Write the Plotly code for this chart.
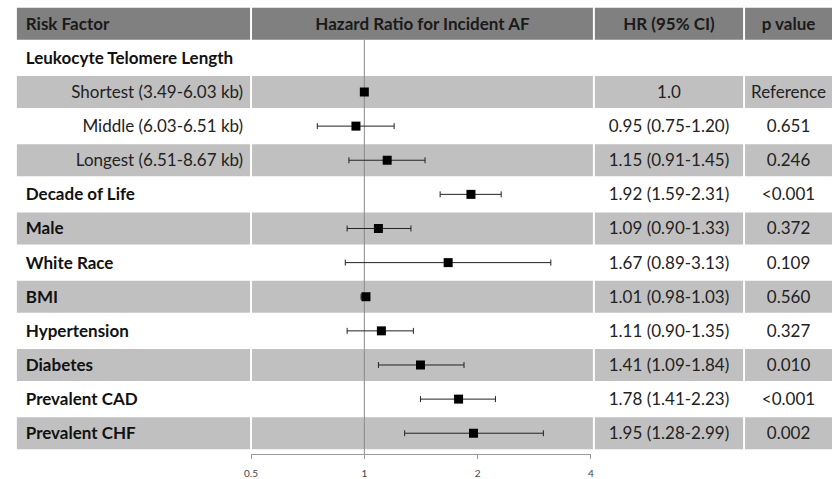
import math
import plotly.graph_objects as go

# ---- data ----
factors = ["Leukocyte Telomere Length", "Shortest (3.49-6.03 kb)", "Middle (6.03-6.51 kb)",
           "Longest (6.51-8.67 kb)", "Decade of Life", "Male", "White Race", "BMI",
           "Hypertension", "Diabetes", "Prevalent CAD", "Prevalent CHF"]
is_sub = [False, True, True, True, False, False, False, False, False, False, False, False]
hr = [None, 1.0, 0.95, 1.15, 1.92, 1.09, 1.67, 1.01, 1.11, 1.41, 1.78, 1.95]
ci_lo = [None, None, 0.75, 0.91, 1.59, 0.90, 0.89, 0.98, 0.90, 1.09, 1.41, 1.28]
ci_hi = [None, None, 1.20, 1.45, 2.31, 1.33, 3.13, 1.03, 1.35, 1.84, 2.23, 2.99]
hr_text = ["", "1.0", "0.95 (0.75-1.20)", "1.15 (0.91-1.45)", "1.92 (1.59-2.31)",
           "1.09 (0.90-1.33)", "1.67 (0.89-3.13)", "1.01 (0.98-1.03)", "1.11 (0.90-1.35)",
           "1.41 (1.09-1.84)", "1.78 (1.41-2.23)", "1.95 (1.28-2.99)"]
p_text = ["", "Reference", "0.651", "0.246", "<0.001", "0.372", "0.109", "0.560",
          "0.327", "0.010", "<0.001", "0.002"]
shaded = [False, True, False, True, False, True, False, True, False, True, False, True]
headers = ["Risk Factor", "Hazard Ratio for Incident AF", "HR (95% CI)", "p value"]
tick_vals = [0.5, 1, 2, 4]
tick_text = ["0.5", "1", "2", "4"]

W, H = 835, 479
FONT = "Lato"
FS = 17
n = len(factors)
rows = list(range(n))
DY = 0.05  # small vertical nudge of text baseline

# column boundaries in px (layout only)
cols = [(10, 246), (248, 593), (595, 745), (747, 835)]

err_plus = [None if (h is None or u is None) else u - h for h, u in zip(hr, ci_hi)]
err_minus = [None if (h is None or l is None) else h - l for h, l in zip(hr, ci_lo)]

fig = go.Figure()


def text_trace(xs, ys, texts, pos, color, bold=False, size=FS):
    t = [f"<b>{s}</b>" if bold else s for s in texts]
    fig.add_trace(go.Scatter(
        x=xs, y=[v + DY for v in ys], text=t, mode="text", textposition=pos,
        xaxis="x", yaxis="y",
        textfont=dict(family=FONT, size=size, color=color), cliponaxis=False,
        hoverinfo="skip", showlegend=False,
    ))


text_trace([19], [-1], [headers[0]], "middle right", "#1a1a1a", bold=True)
text_trace([(cols[1][0] + cols[1][1]) / 2, (cols[2][0] + cols[2][1]) / 2,
            (cols[3][0] + cols[3][1]) / 2], [-1, -1, -1], headers[1:], "middle center",
           "#1a1a1a", bold=True)
main_i = [i for i in rows if not is_sub[i]]
sub_i = [i for i in rows if is_sub[i]]
text_trace([19] * len(main_i), main_i, [factors[i] for i in main_i], "middle right", "#111", bold=True)
text_trace([239] * len(sub_i), sub_i, [factors[i] for i in sub_i], "middle left", "#222")
hr_i = [i for i in rows if hr_text[i]]
text_trace([670] * len(hr_i), hr_i, [hr_text[i] for i in hr_i], "middle center", "#222")
p_i = [i for i in rows if p_text[i]]
text_trace([791] * len(p_i), p_i, [p_text[i] for i in p_i], "middle center", "#222")

# forest plot marks on the log axis
fig.add_trace(go.Scatter(
    x=hr, y=rows, mode="markers", xaxis="x2", yaxis="y",
    marker=dict(symbol="square", size=9, color="black"),
    error_x=dict(type="data", array=err_plus, arrayminus=err_minus, symmetric=False,
                 color="#222", thickness=1, width=3),
    hoverinfo="skip", showlegend=False,
))

shapes = []
half = 0.468
for c0, c1 in cols:
    shapes.append(dict(type="rect", xref="x", yref="y", x0=c0, x1=c1,
                       y0=-1 - half, y1=-1 + half, fillcolor="#808080",
                       line=dict(width=0), layer="below"))
for i in rows:
    if shaded[i]:
        for c0, c1 in cols:
            shapes.append(dict(type="rect", xref="x", yref="y", x0=c0, x1=c1,
                               y0=i - half, y1=i + half, fillcolor="#c0c0c0",
                               line=dict(width=0), layer="below"))
shapes.append(dict(type="line", xref="x2", yref="y", x0=1, x1=1, y0=-1 + half,
                   y1=11.61, line=dict(color="#8a8a8a", width=1), layer="below"))

fig.update_layout(
    width=W, height=H, margin=dict(l=0, r=0, t=0, b=0),
    paper_bgcolor="white", plot_bgcolor="rgba(0,0,0,0)",
    shapes=shapes,
    xaxis=dict(range=[0, W], domain=[0, 1], anchor="y", visible=False, fixedrange=True),
    xaxis2=dict(type="log", range=[math.log10(0.5), math.log10(4)], anchor="y",
                domain=[247 / W, 591 / W], tickvals=tick_vals, ticktext=tick_text,
                showgrid=False, zeroline=False, showline=True, linecolor="#999",
                ticks="outside", ticklen=4, tickcolor="#999", ticklabelstandoff=6,
                tickfont=dict(family=FONT, size=10, color="#444"), fixedrange=True),
    yaxis=dict(range=[11.61, -1.696], domain=[24 / H, 1], visible=False, fixedrange=True),
)
fig.write_html("out.html", config={"displayModeBar": False},
               post_script="document.body.style.margin='0';document.body.style.overflow='hidden';")
